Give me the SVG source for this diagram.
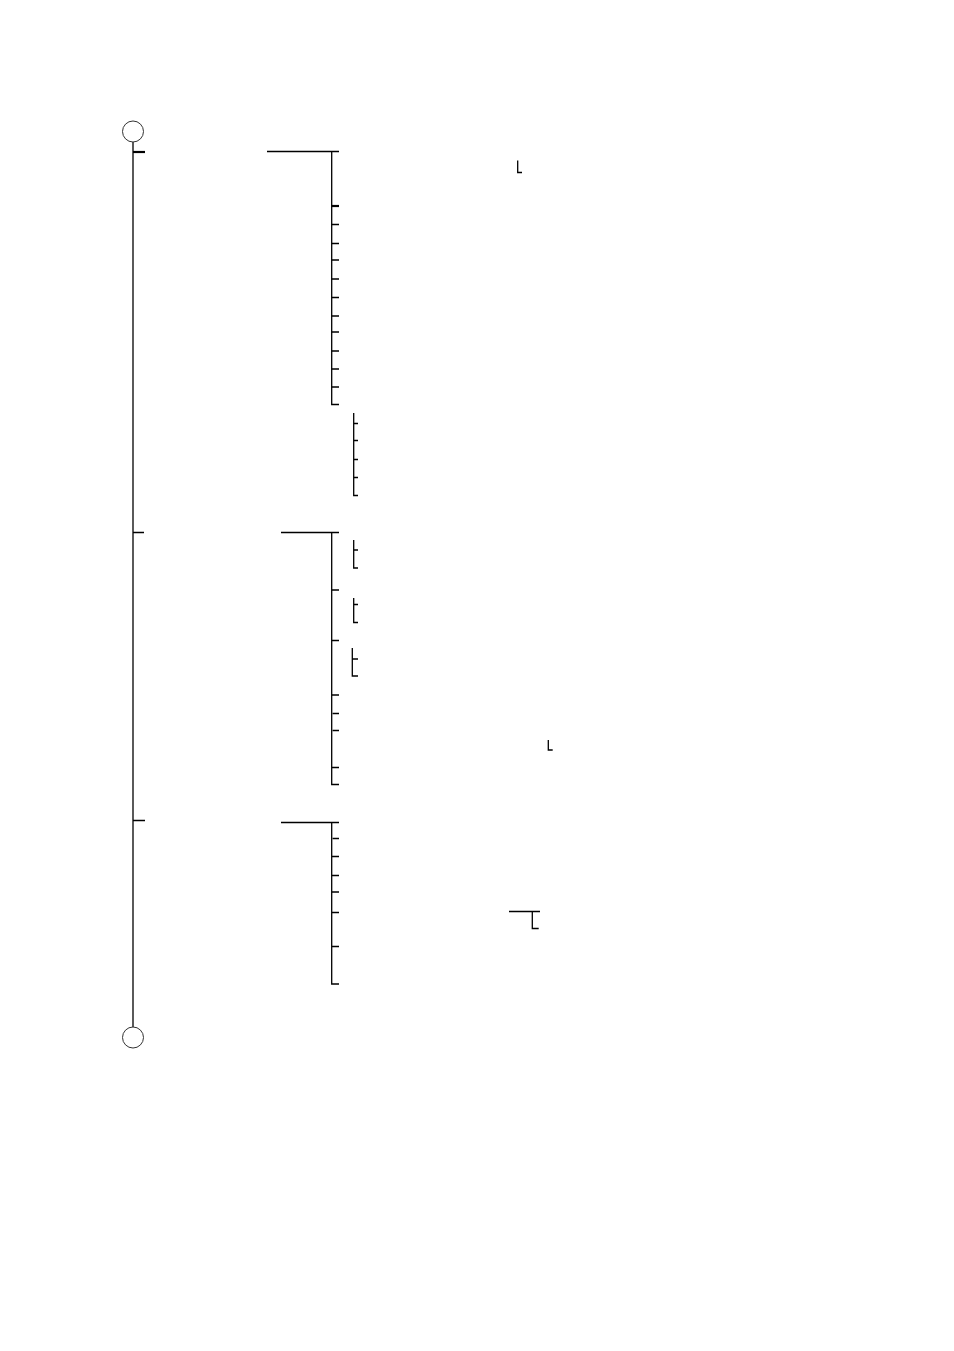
<svg xmlns="http://www.w3.org/2000/svg" width="954" height="1351" viewBox="0 0 954 1351">
<style>
.c{fill:#fff;stroke:#333;stroke-width:1}
.l{fill:none;stroke:#000;stroke-width:1.3}
.t{fill:none;stroke:#000;stroke-width:2.2}
</style>
<rect width="954" height="1351" fill="#fff"/>
<g id="connectors">
<path class="l" d="M133 142V1027"/>
<path class="t" d="M133 152H145"/>
<path class="l" d="M133 532.5H144M133 820.5H145"/>
<!-- branch 1 -->
<path class="l" d="M267 151.5H339M331.7 151.5V404.5H339"/>
<path class="t" d="M331.7 206H339"/>
<path class="l" d="M331.7 224.5H339M331.7 243.5H339M331.7 260H339M331.7 279H339M331.7 297.5H339M331.7 316H339M331.7 332H339M331.7 351H339M331.7 369H339M331.7 387H339"/>
<path class="l" d="M517.7 160.5V172.5H522"/>
<path class="l" d="M353.7 413V495.5H358M353.7 423.5H358M353.7 440.5H358M353.7 459.5H358M353.7 477.5H358"/>
<!-- branch 2 -->
<path class="l" d="M281 532.5H339M331.7 532.5V784.5H339M331.7 590H339M331.7 640.5H339M331.7 695H339M332.7 713.5H339M332.7 730.5H339M331.7 767.5H339"/>
<path class="l" d="M353.7 540V568H358M353.7 550H358"/>
<path class="l" d="M353.7 598V622.5H358M353.7 604.5H358"/>
<path class="l" d="M352.3 648V676H358M352.3 659H358"/>
<path class="l" d="M548.3 740V750H552.7"/>
<!-- branch 3 -->
<path class="l" d="M281 822.5H339M331.7 822.5V984H339M332.7 838.5H339M331.7 856.5H339M331.7 875.5H339M331.7 892H339M331.7 912.5H339M331.7 946.5H339"/>
<path class="l" d="M509 911.5H540M532.3 911.5V928.5H538.7"/>
</g>
<g id="start"><circle class="c" cx="133" cy="131.5" r="10.5"/></g>
<g id="end"><circle class="c" cx="133" cy="1037.5" r="10.5"/></g>
</svg>
